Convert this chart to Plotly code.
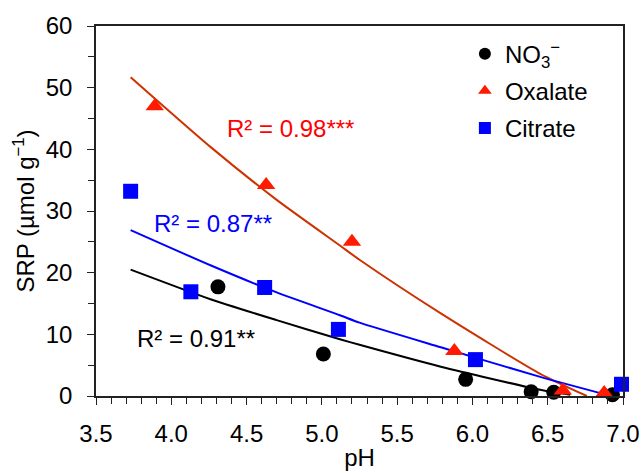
import plotly.graph_objects as go

# ---- data ----
ph_no3 = [4.31, 5.01, 5.955, 6.39, 6.54, 6.93]
srp_no3 = [17.7, 6.8, 2.7, 0.7, 0.6, 0.2]

ph_ox = [3.89, 4.63, 5.20, 5.88, 6.60, 6.875]
srp_ox = [47.0, 34.2, 25.0, 7.3, 0.9, 0.5]

ph_cit = [3.73, 4.13, 4.62, 5.11, 6.02, 6.99]
srp_cit = [33.2, 16.9, 17.6, 10.8, 5.9, 1.9]

# fitted trend lines
trend_ph_no3 = [3.73, 4.26, 4.70, 5.12, 5.25, 5.79, 6.45, 6.65]
trend_no3 = [20.5, 15.7, 12.3, 9.2, 8.3, 4.75, 1.0, 0.2]

trend_ph_ox = [3.73, 4.26, 4.70, 5.12, 5.25, 5.79, 6.45, 6.76]
trend_ox = [51.7, 40.4, 31.8, 24.4, 22.1, 13.4, 3.6, 0.0]

trend_ph_cit = [3.73, 4.26, 4.70, 5.12, 5.25, 5.79, 6.45, 6.89]
trend_cit = [26.9, 21.2, 16.8, 13.1, 11.9, 7.9, 3.1, 0.2]

r2_labels = ["R² = 0.91**", "R² = 0.98***", "R² = 0.87**"]

FONT = "Liberation Sans, Arial, sans-serif"
FS = 24

fig = go.Figure()

for tx, ty, col in [(trend_ph_no3, trend_no3, "black"),
                    (trend_ph_ox, trend_ox, "#CC3300"),
                    (trend_ph_cit, trend_cit, "#0000FF")]:
    fig.add_trace(go.Scatter(x=tx, y=ty, mode="lines",
                             line=dict(color=col, width=2, shape="spline", smoothing=0.6),
                             showlegend=False, hoverinfo="skip"))

fig.add_trace(go.Scatter(x=ph_no3, y=srp_no3, mode="markers", name="NO<sub>3</sub><sup>−</sup>",
                         legendgroup="a",
                         marker=dict(symbol="circle", size=15, color="black"), cliponaxis=False))
fig.add_trace(go.Scatter(x=ph_ox, y=srp_ox, mode="markers", name="Oxalate", legendgroup="b",
                         marker=dict(symbol="triangle-up", size=16, color="#FF1A00"), cliponaxis=False))
fig.add_trace(go.Scatter(x=ph_cit, y=srp_cit, mode="markers", name="Citrate", legendgroup="c",
                         marker=dict(symbol="square", size=15, color="#0000FF"), cliponaxis=False))

ann = [
    (3.761, 9.3, r2_labels[0], "black"),
    (4.358, 43.3, r2_labels[1], "#FF0000"),
    (3.869, 28.0, r2_labels[2], "#0000FF"),
]
for x, y, t, col in ann:
    fig.add_annotation(x=x, y=y, text=t, showarrow=False, xanchor="left", yanchor="middle",
                       font=dict(family=FONT, size=FS, color=col))

axis_common = dict(showline=True, linecolor="#222222", linewidth=1.5, mirror=True,
                   ticks="outside", ticklen=7, tickwidth=1.2, tickcolor="#222222",
                   showgrid=False, zeroline=False, automargin=False,
                   tickfont=dict(family=FONT, size=FS, color="black"))

fig.update_xaxes(range=[3.5, 7.0], dtick=0.5, tickformat=".1f", ticklabelstandoff=8,
                 minor=dict(dtick=0.1, ticks="outside", ticklen=6, tickwidth=1.2, tickcolor="#222222"),
                 title=dict(text="pH", font=dict(family=FONT, size=FS, color="black"), standoff=4),
                 **axis_common)
fig.update_yaxes(range=[0, 60], dtick=10, ticklabelstandoff=10,
                 minor=dict(dtick=5, ticks="outside", ticklen=6, tickwidth=1.2, tickcolor="#222222"),
                 title=dict(text="SRP (µmol g<sup>−1</sup>)", font=dict(family=FONT, size=FS, color="black"),
                            standoff=4),
                 **axis_common)

fig.update_layout(
    width=642, height=473,
    margin=dict(l=96, r=19, t=26, b=77, autoexpand=False),
    plot_bgcolor="white", paper_bgcolor="white",
    font=dict(family=FONT, size=FS, color="black"),
    legend=dict(x=0.70, y=0.985, xanchor="left", yanchor="top", bgcolor="rgba(0,0,0,0)",
                font=dict(family=FONT, size=FS, color="black"), itemsizing="constant",
                tracegroupgap=3),
    showlegend=True,
)

fig.write_html("out.html")
